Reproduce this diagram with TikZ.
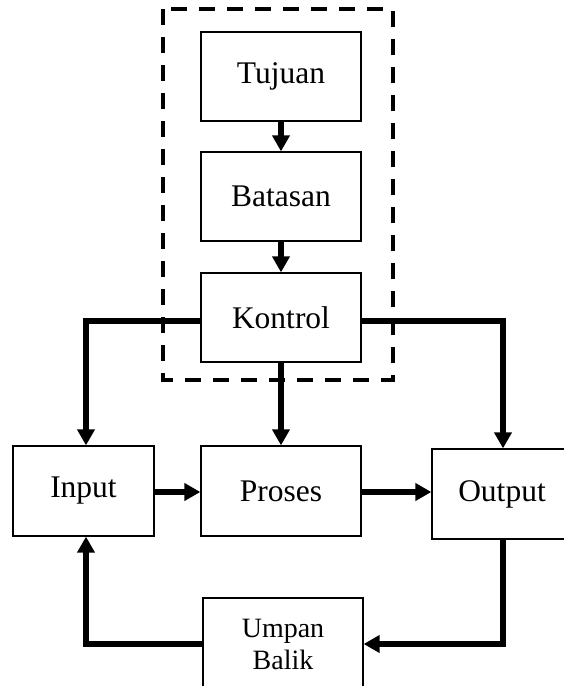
\documentclass[tikz,border=0pt]{standalone}
\usepackage{fontspec}
\setmainfont{Liberation Serif}
\usetikzlibrary{arrows.meta}
\begin{document}
\begin{tikzpicture}[x=1pt,y=1pt,
  block/.style={draw, line width=1.3pt, fill=white, minimum width=160pt,
    minimum height=89pt, inner sep=0pt, font=\fontsize{31.5}{36}\selectfont},
  flow/.style={line width=5.5pt, -{Triangle[length=16pt,width=17pt]}},
  groupframe/.style={line width=4pt, dash pattern=on 16pt off 12pt}]

\useasboundingbox (0,0) rectangle (563,-686);

% control chain
\node[block] (tujuan)  at (281,-76.5)  {Tujuan};
\node[block] (batasan) at (281,-196.5) {Batasan};
\node[block] (kontrol) at (281,-317.5) {Kontrol};

% main flow
\node[block, minimum width=141pt, minimum height=90pt] (input)  at (83.5,-491) {Input};
\node[block, minimum height=90pt] (proses) at (281,-491) {Proses};
\node[block, minimum width=140pt, minimum height=90pt] (output) at (502,-494) {Output};

% feedback
\node[block, minimum height=92pt, align=center,
  font=\fontsize{28}{32}\selectfont] (umpan) at (283,-644) {Umpan\\Balik};

% frame around the control chain
\draw[groupframe] ([shift={(-37pt,22pt)}]tujuan.north west)
  rectangle ([shift={(31pt,-17pt)}]kontrol.south east);

% connectors
\draw[flow] (tujuan) -- (batasan);
\draw[flow] (batasan) -- (kontrol);
\draw[flow] ([yshift=-3.5pt]kontrol.west) -| ([xshift=2.5pt]input.north);
\draw[flow] ([yshift=-3.5pt]kontrol.east) -| ([xshift=1pt]output.north);
\draw[flow] (kontrol) -- (proses);
\draw[flow] (input.east |- 0,-492) -- (proses.west |- 0,-492);
\draw[flow] (proses.east |- 0,-492) -- (output.west |- 0,-492);
\draw[flow] ([xshift=1pt]output.south) |- (umpan.east);
\draw[flow] (umpan.west) -| ([xshift=2.5pt]input.south);
\end{tikzpicture}
\end{document}
